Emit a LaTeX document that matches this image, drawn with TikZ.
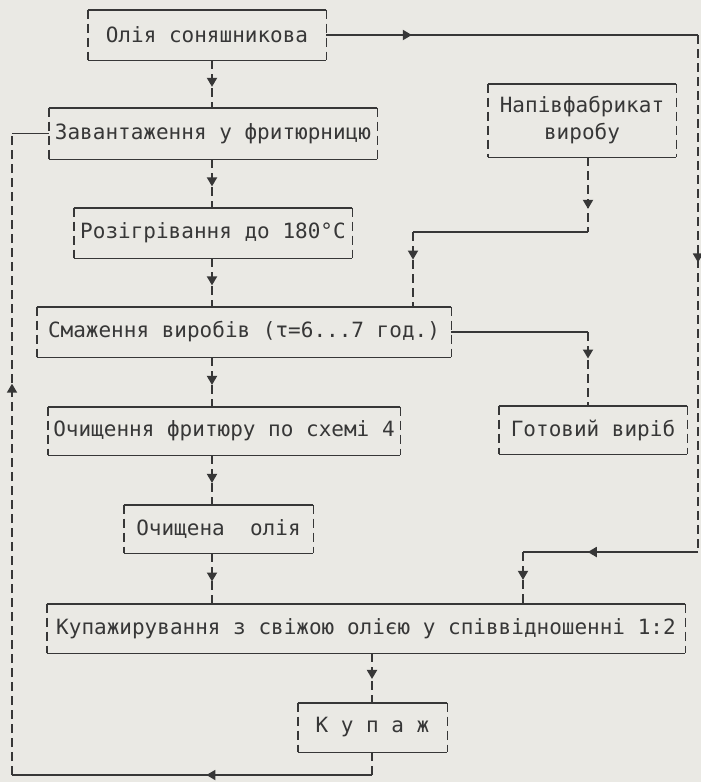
\documentclass[tikz,border=0pt]{standalone}
\usepackage{fontspec}
\setmonofont{DejaVu Sans Mono}
\usepackage{tikz}
\usetikzlibrary{arrows.meta,decorations.markings}

\definecolor{paper}{RGB}{234,233,228}
\definecolor{ink}{RGB}{55,55,55}

\tikzset{
	stage/.style={inner sep=0pt, text=ink, align=center,
		font=\ttfamily\fontsize{10.5}{13.5}\selectfont},
	edge/.style={draw=ink, line width=0.9pt},
	side/.style={dash pattern=on 4.5pt off 2.5pt},
	flow/.style={postaction={decorate}, decoration={markings,
		mark=at position #1 with {\arrow{Triangle[width=5pt,length=4.5pt]}}}},
	flow/.default=0.56
}

\begin{document}
\begin{tikzpicture}[x=0.5pt, y=-0.5pt]
	\fill [paper] (0,0) rectangle (701,782);
	\useasboundingbox (0,0) rectangle (701,782);

	\node [stage, minimum width=119pt, minimum height=25pt] (Oil) at (207,35) {Олія соняшникова};
	\node [stage, minimum width=164pt, minimum height=25.5pt] (Load) at (213,133.5) {Завантаження у фритюрницю};
	\node [stage, minimum width=139pt, minimum height=25pt] (Heat) at (213,233) {Розігрівання до 180°C};
	\node [stage, minimum width=207pt, minimum height=25pt] (Fry) at (244,332) {Смаження виробів (τ=6...7 год.)};
	\node [stage, minimum width=176pt, minimum height=24pt] (Clean) at (224,431) {Очищення фритюру по схемі 4};
	\node [stage, minimum width=94.5pt, minimum height=24pt] (Pure) at (218.5,529) {Очищена\ \ олія};
	\node [stage, minimum width=319pt, minimum height=24.5pt] (Blend) at (366,628.5) {Купажирування з свіжою олією у співвідношенні 1:2};
	\node [stage, minimum width=74.5pt, minimum height=24.5pt] (Mix) at (372.5,727.5) {К у п а ж};
	\node [stage, minimum width=94pt, minimum height=36.5pt] (Semi) at (582,120.5) {Напівфабрикат\\виробу};
	\node [stage, minimum width=94pt, minimum height=24pt] (Ready) at (593,430) {Готовий виріб};

	\foreach \b in {Oil,Load,Heat,Fry,Clean,Pure,Blend,Mix,Semi,Ready} {
		\draw [edge] (\b.north west) -- (\b.north east) (\b.south west) -- (\b.south east);
		\draw [edge, side] (\b.north west) -- (\b.south west) (\b.north east) -- (\b.south east);
	}

	\coordinate (Col) at (212,0);
	\draw [edge, side, flow] (Oil.south -| Col) -- (Load.north -| Col);
	\draw [edge, side, flow] (Load.south -| Col) -- (Heat.north -| Col);
	\draw [edge, side, flow] (Heat.south -| Col) -- (Fry.north -| Col);
	\draw [edge, side, flow] (Fry.south -| Col) -- (Clean.north -| Col);
	\draw [edge, side, flow] (Clean.south -| Col) -- (Pure.north -| Col);
	\draw [edge, side, flow] (Pure.south -| Col) -- (Blend.north -| Col);

	\coordinate (R_1) at (698,35);
	\coordinate (R_2) at (698,552);
	\coordinate (R_3) at (523,552);
	\draw [edge, flow=0.23] (Oil.east) -- (R_1);
	\draw [edge, side, flow=0.44] (R_1) -- (R_2);
	\draw [edge, flow=0.63] (R_2) -- (R_3);
	\draw [edge, side, flow=0.54] (R_3) -- (Blend.north -| R_3);

	\coordinate (H_1) at (588,232);
	\coordinate (H_2) at (413,232);
	\draw [edge, side, flow=0.69] (Semi.south -| H_1) -- (H_1);
	\draw [edge] (H_1) -- (H_2);
	\draw [edge, side, flow=0.37] (H_2) -- (Fry.north -| H_2);

	\coordinate (G_1) at (588,332);
	\draw [edge] (Fry.east) -- (G_1);
	\draw [edge, side, flow=0.36] (G_1) -- (Ready.north -| G_1);

	\coordinate (K) at (372,0);
	\draw [edge, side, flow=0.52] (Blend.south -| K) -- (Mix.north -| K);

	\coordinate (L_1) at (372,775);
	\coordinate (L_2) at (12,775);
	\coordinate (L_3) at (Load.west -| L_2);
	\draw [edge, side] (Mix.south -| K) -- (L_1);
	\draw [edge, flow=0.46] (L_1) -- (L_2);
	\draw [edge, side, flow=0.61] (L_2) -- (L_3);
	\draw [edge] (L_3) -- (Load.west);
\end{tikzpicture}
\end{document}
